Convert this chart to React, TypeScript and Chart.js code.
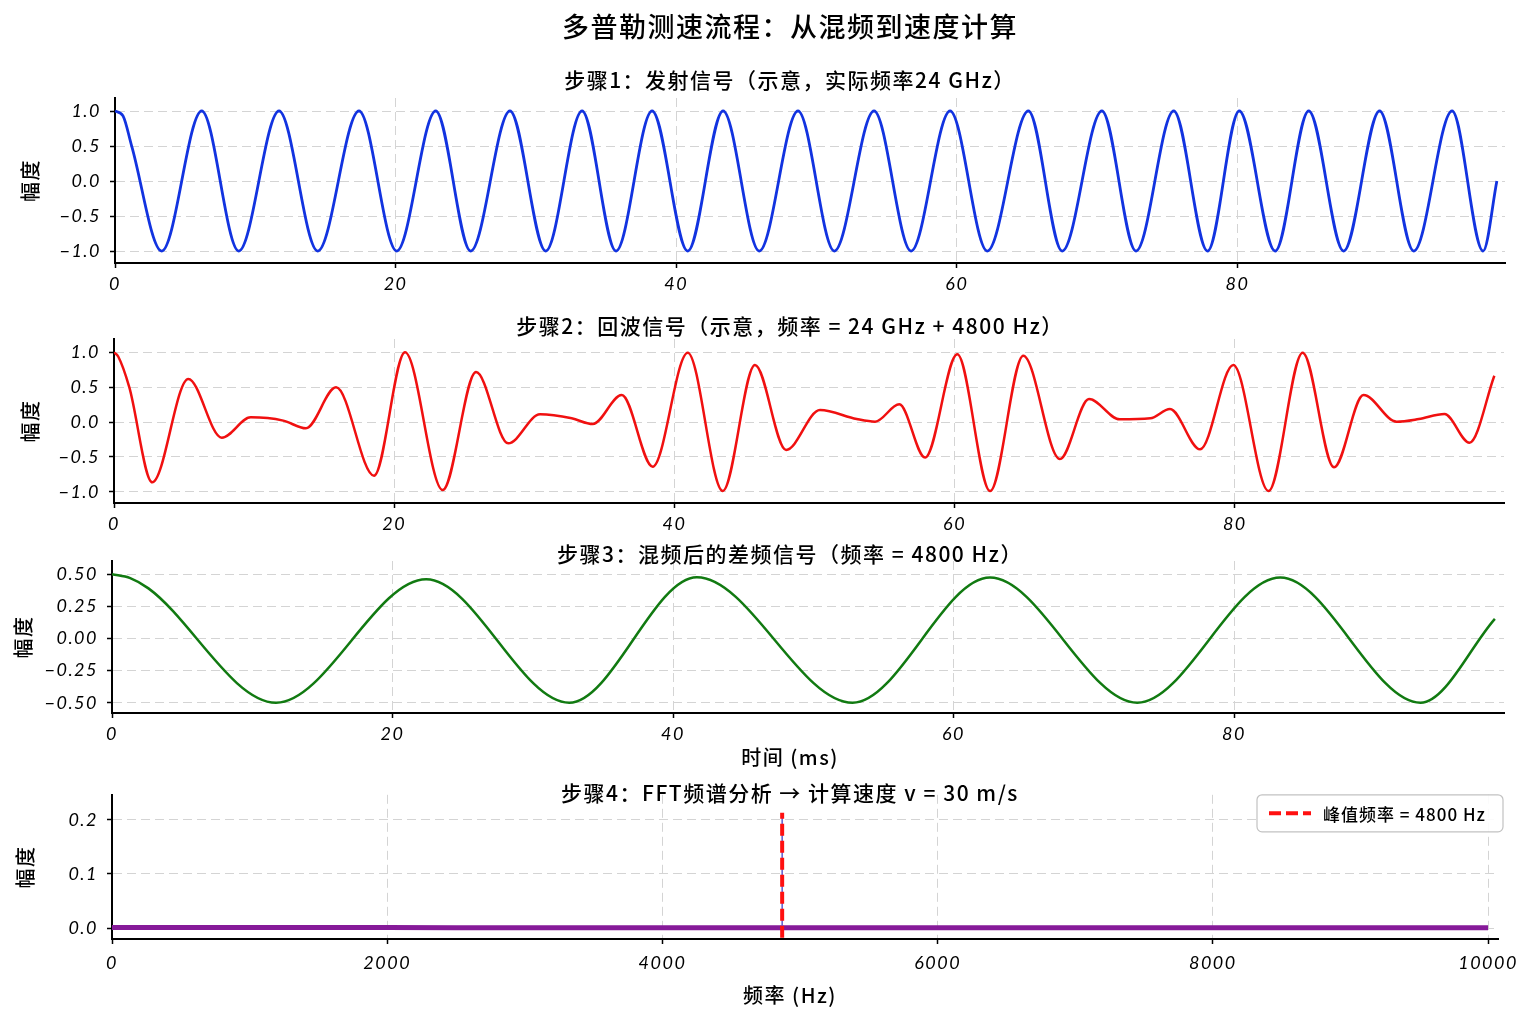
import React, { useEffect, useRef } from "react";
import { Chart, registerables } from "chart.js";

Chart.register(...registerables);

// ---------------- data ----------------
const timeTicks = [0, 20, 40, 60, 80];
const freqTicks = [0, 2000, 4000, 6000, 8000, 10000];
const ampTicksUnit = [-1, -0.5, 0, 0.5, 1];
const ampTicksHalf = [-0.5, -0.25, 0, 0.25, 0.5];
const ampTicksSpec = [0, 0.1, 0.2];

// Step 1: transmitted signal (ms, amplitude) – extrema
const txTime = [
  0, 0.57, 1.19, 3.33, 6.18, 8.82, 11.69, 14.45, 17.39, 20.08, 22.86, 25.35, 28.15, 30.7, 33.29, 35.71,
  38.28, 40.82, 43.34, 45.92, 48.68, 51.27, 54.1, 56.74, 59.52, 62.17, 65.1, 67.51, 70.34, 72.77, 75.46,
  77.87, 80.13, 82.69, 85.08, 87.57, 90.13, 92.57, 95.3, 97.51, 98.49,
];
const txAmp = [
  1, 0.93, 0.5, -1, 1, -1, 1, -1, 1, -1, 1, -1, 1, -1, 1, -1,
  1, -1, 1, -1, 1, -1, 1, -1, 1, -1, 1, -1, 1, -1, 1,
  -1, 1, -1, 1, -1, 1, -1, 1, -1, 0,
];

// Step 2: echo signal
const rxTime = [
  0, 0.3, 1.09, 2.73, 5.3, 7.69, 9.76, 12.08, 13.7, 15.85, 18.56, 20.77, 23.46, 25.84, 28.14, 30.41,
  32.67, 34.17, 36.24, 38.45, 40.95, 43.45, 45.75, 47.97, 50.39, 53.01, 54.32, 56.05, 57.89, 60.19,
  62.53, 64.9, 67.51, 69.59, 71.78, 73.97, 75.37, 77.52, 79.89, 82.4, 84.84, 87.08, 89.18, 91.55,
  93.13, 94.96, 96.75, 98.52,
];
const rxAmp = [
  1.0, 0.94, 0.5, -0.865, 0.617, -0.225, 0.067, 0.02, -0.09, 0.497, -0.77, 1.0, -0.976, 0.717, -0.306, 0.11,
  0.053, -0.029, 0.387, -0.641, 0.995, -0.99, 0.818, -0.4, 0.172, 0.043, 0.005, 0.254, -0.51, 0.971,
  -0.99, 0.951, -0.531, 0.33, 0.038, 0.053, 0.186, -0.392, 0.818, -0.99, 0.995, -0.65, 0.387, 0.005,
  0.043, 0.115, -0.297, 0.664,
];

// Step 3: beat signal after mixing
const beatTime = [0, 1.3, 2.6, 11.7, 22.4, 32.6, 41.7, 52.8, 62.6, 73.1, 83.3, 93.3, 98.6];
const beatAmp = [0.5, 0.47, 0.39, -0.5, 0.461, -0.5, 0.477, -0.5, 0.474, -0.5, 0.474, -0.5, 0.153];

// Step 4: spectrum
const specFreq = [0, 500, 1000, 1500, 2000, 2500, 3000, 3500, 4000, 4500, 5000, 5500, 6000, 6500, 7000, 7500, 8000, 8500, 9000, 9500, 10000];
const specAmp = [0.001, 0.001, 0.001, 0.001, 0.001, 0.0005, 0.0005, 0.0005, 0.0005, 0.0005, 0.0005, 0.0005, 0.0005, 0.0005, 0.0005, 0.0005, 0.0005, 0.0005, 0.0005, 0.0005, 0.0005];
const peakFreq = 4870;
const peakSpikeAmp = [0, 0.21];
const peakMarkerAmp = [-0.018, 0.213];

// texts
const mainTitle = "多普勒测速流程：从混频到速度计算";
const panelTitles = [
  "步骤1：发射信号（示意，实际频率24 GHz）",
  "步骤2：回波信号（示意，频率 = 24 GHz + 4800 Hz）",
  "步骤3：混频后的差频信号（频率 = 4800 Hz）",
  "步骤4：FFT频谱分析 → 计算速度 v = 30 m/s",
];
const yLabel = "幅度";
const timeLabel = "时间 (ms)";
const freqLabel = "频率 (Hz)";
const peakLabel = "峰值频率 = 4800 Hz";

// ---------------- styling ----------------
const CJK = "'Noto Sans CJK SC', 'Noto Sans', sans-serif";
const NUM = "Lato, 'DejaVu Sans', sans-serif";
const GRID = "#d4d4d4";
const CANVAS_W = 1580;

function pts(xs: number[], ys: number[]) {
  return xs.map((x, i) => ({ x, y: ys[i] }));
}
function fmt(v: number, d: number) {
  const s = Math.abs(v).toFixed(d);
  return v < -1e-9 ? "\u2212" + s : s;
}

const spacingPlugin = {
  id: "spacing",
  beforeUpdate(chart: any) {
    chart.ctx.letterSpacing = "1.5px";
  },
  beforeDraw(chart: any) {
    chart.ctx.letterSpacing = "1.5px";
  },
};

const legendBoxPlugin = {
  id: "legendBox",
  afterDraw(chart: any, _args: any, opts: any) {
    if (!opts || !opts.display) return;
    const ds = chart.data.datasets[opts.datasetIndex];
    const { ctx, chartArea } = chart;
    const w = opts.width;
    const h = opts.height;
    const x = chartArea.right + opts.dx - w;
    const y = chartArea.top + opts.dy;
    ctx.save();
    ctx.beginPath();
    ctx.roundRect(x, y, w, h, 5);
    ctx.fillStyle = "rgba(255,255,255,0.9)";
    ctx.fill();
    ctx.strokeStyle = "#c2c2c2";
    ctx.lineWidth = 1.2;
    ctx.stroke();
    ctx.beginPath();
    ctx.setLineDash(ds.borderDash || []);
    ctx.strokeStyle = ds.borderColor;
    ctx.lineWidth = ds.borderWidth;
    ctx.moveTo(x + 12, y + h / 2);
    ctx.lineTo(x + 54, y + h / 2);
    ctx.stroke();
    ctx.setLineDash([]);
    ctx.letterSpacing = "1px";
    ctx.fillStyle = "#000";
    ctx.font = `500 17px ${CJK}`;
    ctx.textBaseline = "middle";
    ctx.textAlign = "left";
    ctx.fillText(ds.label, x + 66, y + h / 2 + 1);
    ctx.restore();
  },
};

function axisCommon() {
  return {
    grid: {
      color: GRID,
      lineWidth: 1,
      drawTicks: true,
      tickLength: 5,
      tickColor: "#000",
      tickWidth: 1.5,
      tickBorderDash: [],
    },
    border: { display: true, color: "#000", width: 2, dash: [9, 5] },
  };
}

function buildConfig(p: any): any {
  return {
    type: "line",
    data: { datasets: p.datasets },
    options: {
      animation: false,
      responsive: false,
      devicePixelRatio: 1,
      events: [],
      layout: { padding: { left: 0, top: 0, right: 0, bottom: 0 } },
      plugins: {
        legend: { display: false },
        tooltip: { enabled: false },
        title: {
          display: true,
          text: p.title.text,
          color: "#000",
          font: { family: CJK, size: p.title.size, lineHeight: 1, weight: "500" },
          padding: p.title.pad,
        },
        subtitle: p.subtitle
          ? {
              display: true,
              text: p.subtitle.text,
              position: p.subtitle.position,
              color: "#000",
              font: { family: CJK, size: p.subtitle.size, lineHeight: 1, weight: "500" },
              padding: p.subtitle.pad,
            }
          : { display: false },
        legendBox: p.legendBox || { display: false },
      },
      scales: {
        x: {
          type: "linear",
          position: "bottom",
          min: p.xMin,
          max: p.xMax,
          afterBuildTicks: (s: any) => {
            s.ticks = p.xTicks.map((v: number) => ({ value: v }));
          },
          afterFit: (s: any) => {
            s.height = p.xAxisH;
          },
          ...axisCommon(),
          ticks: {
            color: "#000",
            font: { family: NUM, size: 18, style: "italic" },
            padding: p.xTickPad,
            maxRotation: 0,
            autoSkip: false,
            callback: (v: any) => String(v),
          },
        },
        y: {
          type: "linear",
          position: "left",
          min: p.yMin,
          max: p.yMax,
          afterBuildTicks: (s: any) => {
            s.ticks = p.yTicks.map((v: number) => ({ value: v }));
          },
          afterFit: (s: any) => {
            s.width = p.yAxisW;
          },
          ...axisCommon(),
          title: {
            display: true,
            text: yLabel,
            color: "#000",
            font: { family: CJK, size: 20, lineHeight: 1, weight: "500" },
            padding: { top: p.yTitlePad, bottom: 0 },
          },
          ticks: {
            color: "#000",
            font: { family: NUM, size: 18, style: "italic" },
            padding: 9,
            autoSkip: false,
            callback: (v: any) => fmt(Number(v), p.yDec),
          },
        },
        // empty right-hand margin box so that the figure titles centre on the whole figure
        margin: {
          type: "linear",
          position: "right",
          display: true,
          afterFit: (s: any) => {
            s.width = p.rightW;
          },
          grid: { display: false, drawTicks: false },
          border: { display: false },
          ticks: { display: false },
        },
      },
    },
    plugins: [spacingPlugin, legendBoxPlugin],
  };
}

const curve = (data: any, color: string, width: number) => ({
  data,
  borderColor: color,
  borderWidth: width,
  pointRadius: 0,
  fill: false,
  cubicInterpolationMode: "monotone",
});

const panels = [
  {
    top: 0,
    height: 300,
    config: () =>
      buildConfig({
        title: { text: mainTitle, size: 27, pad: { top: 13.5, bottom: 0 } },
        subtitle: { text: panelTitles[0], size: 21, position: "top", pad: { top: 29, bottom: 7.5 } },
        datasets: [curve(pts(txTime, txAmp), "#1233e0", 2.8)],
        rightW: 75,
        xMin: 0,
        xMax: 99.07,
        xTicks: timeTicks,
        xAxisH: 37,
        xTickPad: 5,
        yMin: -1.171,
        yMax: 1.186,
        yTicks: ampTicksUnit,
        yAxisW: 115,
        yTitlePad: 20,
        yDec: 1,
      }),
  },
  {
    top: 300,
    height: 236,
    config: () =>
      buildConfig({
        title: { text: panelTitles[1], size: 21, pad: { top: 15.5, bottom: 2.5 } },
        datasets: [curve(pts(rxTime, rxAmp), "#f01010", 2.5)],
        rightW: 76,
        xMin: 0,
        xMax: 99.21,
        xTicks: timeTicks,
        xAxisH: 33,
        xTickPad: 5,
        yMin: -1.162,
        yMax: 1.191,
        yTicks: ampTicksUnit,
        yAxisW: 114,
        yTitlePad: 20,
        yDec: 1,
      }),
  },
  {
    top: 536,
    height: 239,
    config: () =>
      buildConfig({
        title: { text: panelTitles[2], size: 21, pad: { top: 7.5, bottom: -3.5 } },
        subtitle: { text: timeLabel, size: 20, position: "bottom", pad: { top: 0, bottom: 8 } },
        datasets: [curve(pts(beatTime, beatAmp), "#117a11", 2.5)],
        rightW: 76,
        xMin: 0,
        xMax: 99.25,
        xTicks: timeTicks,
        xAxisH: 34,
        xTickPad: 5,
        yMin: -0.58,
        yMax: 0.603,
        yTicks: ampTicksHalf,
        yAxisW: 112,
        yTitlePad: 13,
        yDec: 2,
      }),
  },
  {
    top: 775,
    height: 249,
    config: () =>
      buildConfig({
        title: { text: panelTitles[3], size: 21, pad: { top: 6.5, bottom: -8.5 } },
        subtitle: { text: freqLabel, size: 20, position: "bottom", pad: { top: 0, bottom: 19 } },
        datasets: [
          {
            label: peakLabel,
            data: pts([peakFreq, peakFreq], peakMarkerAmp),
            borderColor: "#ff1010",
            borderWidth: 4,
            borderDash: [12, 5],
            pointRadius: 0,
            fill: false,
          },
          {
            data: pts([peakFreq, peakFreq], peakSpikeAmp),
            borderColor: "#5a5ad0",
            borderWidth: 1.5,
            pointRadius: 0,
            fill: false,
          },
          {
            data: pts(specFreq, specAmp),
            borderColor: "#861a99",
            borderWidth: 5,
            pointRadius: 0,
            fill: false,
          },
        ],
        legendBox: { display: true, datasetIndex: 0, width: 246, height: 37, dx: 5, dy: 0 },
        rightW: 82,
        xMin: 0,
        xMax: 10072,
        xTicks: freqTicks,
        xAxisH: 46,
        xTickPad: 8,
        yMin: -0.0202,
        yMax: 0.2464,
        yTicks: ampTicksSpec,
        yAxisW: 112,
        yTitlePad: 15,
        yDec: 1,
      }),
  },
];

function Panel({ spec }: { spec: any }) {
  const ref = useRef<HTMLCanvasElement>(null);
  useEffect(() => {
    if (!ref.current) return;
    const chart = new Chart(ref.current, spec.config());
    return () => chart.destroy();
  }, []);
  return (
    <canvas
      ref={ref}
      width={CANVAS_W}
      height={spec.height}
      style={{ position: "absolute", left: 0, top: spec.top, width: CANVAS_W, height: spec.height }}
    />
  );
}

export default function App() {
  return (
    <div
      style={{
        position: "absolute",
        left: 0,
        top: 0,
        width: 1536,
        height: 1024,
        overflow: "hidden",
        background: "#fff",
      }}
    >
      {panels.map((p, i) => (
        <Panel key={i} spec={p} />
      ))}
    </div>
  );
}
